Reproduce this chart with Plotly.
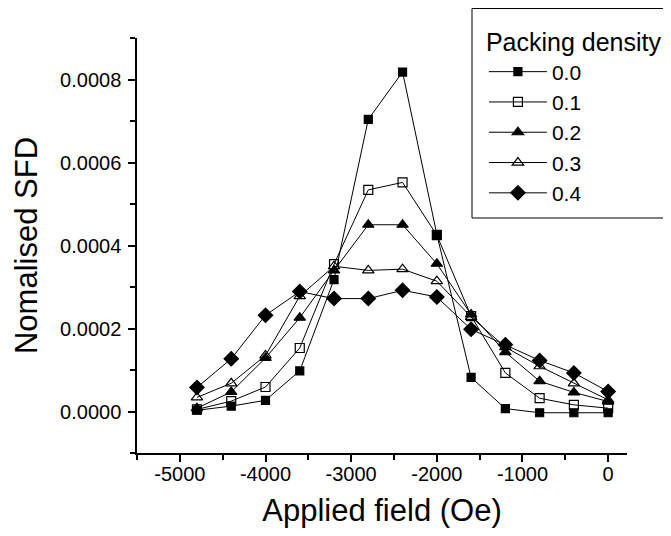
import plotly.graph_objects as go

# ---- data ----
field = [-4800, -4400, -4000, -3600, -3200, -2800, -2400, -2000, -1600, -1200, -800, -400, 0]
sfd_00 = [0.000003, 0.000013, 0.000027, 0.000098, 0.000318, 0.000704, 0.000818, 0.000427, 0.000082, 0.000007, -0.000003, -0.000003, -0.000003]
sfd_01 = [0.000005, 0.000025, 0.000059, 0.000153, 0.000355, 0.000534, 0.000552, 0.000425, 0.000230, 0.000093, 0.000032, 0.000016, 0.000008]
sfd_02 = [0.000008, 0.000047, 0.000129, 0.000226, 0.000340, 0.000450, 0.000450, 0.000356, 0.000234, 0.000143, 0.000073, 0.000046, 0.000024]
sfd_03 = [0.000034, 0.000068, 0.000135, 0.000278, 0.000350, 0.000340, 0.000343, 0.000314, 0.000228, 0.000155, 0.000109, 0.000068, 0.000028]
sfd_04 = [0.000058, 0.000127, 0.000232, 0.000289, 0.000272, 0.000272, 0.000292, 0.000276, 0.000198, 0.000161, 0.000123, 0.000093, 0.000048]
series_names = ["0.0", "0.1", "0.2", "0.3", "0.4"]
x_tickvals = [-5000, -4000, -3000, -2000, -1000, 0]
x_ticktext = ["-5000", "-4000", "-3000", "-2000", "-1000", "0"]
y_tickvals = [0.0, 0.0002, 0.0004, 0.0006, 0.0008]
y_ticktext = ["0.0000", "0.0002", "0.0004", "0.0006", "0.0008"]

series = [sfd_00, sfd_01, sfd_02, sfd_03, sfd_04]
symbols = ["square", "square-open", "triangle-up", "triangle-up-open", "diamond"]
sizes = [8, 9, 10, 10, 11]

fig = go.Figure()
for name, vals, sym, sz in zip(series_names, series, symbols, sizes):
    fig.add_trace(go.Scatter(
        x=field, y=vals, name=name, mode="lines+markers",
        line=dict(color="black", width=1),
        marker=dict(symbol=sym, size=sz, color="black",
                    line=dict(color="black", width=1.2)),
    ))

# legend frame, open on the right (runs to the image edge, as in the original)
box_l, box_r, box_t, box_b = 0.6837, 1.0857, 1.0711, 0.5663
fig.add_shape(type="path", xref="paper", yref="paper",
              path=f"M {box_r},{box_t} L {box_l},{box_t} L {box_l},{box_b} L {box_r},{box_b}",
              line=dict(color="black", width=1), layer="below")

font_family = "Liberation Sans, Arial, sans-serif"
fig.update_layout(
    width=671, height=536,
    margin=dict(l=129, r=52, t=30, b=91, autoexpand=False),
    paper_bgcolor="white", plot_bgcolor="white",
    font=dict(family=font_family, color="black"),
    showlegend=True,
    legend=dict(
        title=dict(text="Packing density", font=dict(size=25)),
        font=dict(size=21),
        x=0.708, y=1.0458, xanchor="left", yanchor="top",
        borderwidth=0, bgcolor="rgba(0,0,0,0)",
        tracegroupgap=0, itemwidth=58,
    ),
    xaxis=dict(
        range=[-5500, 220],
        tickvals=x_tickvals, ticktext=x_ticktext,
        ticks="outside", ticklen=7, tickwidth=1.5, tickcolor="black",
        minor=dict(dtick=500, tick0=0, ticks="outside", ticklen=5, tickwidth=1.5, tickcolor="black"),
        showline=True, linecolor="black", linewidth=1.5,
        showgrid=False, zeroline=False,
        tickfont=dict(size=20), ticklabelstandoff=-5,
        title=dict(text="Applied field (Oe)", font=dict(size=31), standoff=16),
    ),
    yaxis=dict(
        range=[-0.0001, 0.0009],
        tickvals=y_tickvals, ticktext=y_ticktext,
        ticks="outside", ticklen=7, tickwidth=1.5, tickcolor="black",
        minor=dict(dtick=0.0001, tick0=0, ticks="outside", ticklen=5, tickwidth=1.5, tickcolor="black"),
        showline=True, linecolor="black", linewidth=1.5,
        showgrid=False, zeroline=False,
        tickfont=dict(size=20), ticklabelstandoff=3,
        title=dict(text="Nomalised SFD", font=dict(size=31), standoff=13),
    ),
)

fig.write_html("out.html")
